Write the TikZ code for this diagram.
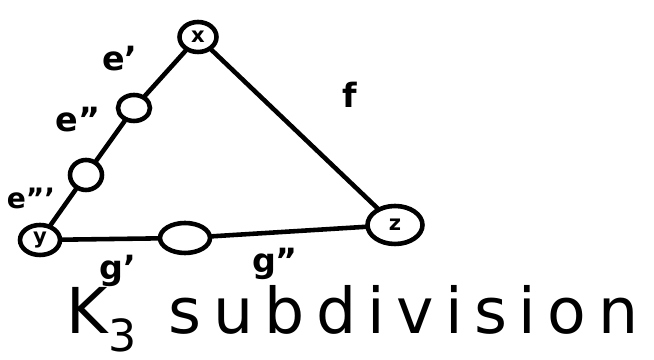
\documentclass[tikz,border=0pt]{standalone}
\usepackage{tikz}
\usepackage{fontspec}
\setsansfont{DejaVu Sans}
\usetikzlibrary{shapes.geometric, positioning}

\begin{document}
\begin{tikzpicture}[
        vert/.style={ellipse, draw=black, line width=2.6pt, inner sep=0pt, font=\sffamily\bfseries\large},
        edge_line/.style={draw=black, line width=2.6pt, line cap=round},
        lbl/.style={font=\sffamily\bfseries\fontsize{19}{22}\selectfont, inner sep=1pt}
    ]
    \useasboundingbox (0,0) rectangle (13.08,7.2);

    % Vertices
    \node[vert, minimum width=0.74cm, minimum height=0.6cm] (vx) at (3.96,6.46) {x};
    \node[vert, minimum width=0.64cm, minimum height=0.52cm] (ve1) at (2.68,5.04) {};
    \node[vert, minimum width=0.64cm, minimum height=0.6cm] (ve2) at (1.72,3.70) {};
    \node[vert, minimum width=0.8cm, minimum height=0.6cm] (vy) at (0.80,2.40) {y};
    \node[vert, minimum width=1.0cm, minimum height=0.6cm] (vg) at (3.70,2.44) {};
    \node[vert, minimum width=1.1cm, minimum height=0.76cm] (vz) at (7.90,2.70) {z};

    % Edge labels
    \node[lbl] (le1) at (2.40,6.02) {e'};
    \node[lbl] (le2) at (1.56,4.80) {e''};
    \node[lbl, font=\sffamily\bfseries\fontsize{16}{19}\selectfont] (le3) at (0.62,3.24) {e'''};
    \node[lbl] (lf) at (7.0,5.3) {f};
    \node[lbl] (lg1) at (2.36,1.78) {g'};
    \node[lbl] (lg2) at (5.5,1.92) {g''};

    % Title
    \node[font=\sffamily\fontsize{36}{42}\selectfont\addfontfeatures{LetterSpace=18}] (title) at (7.05,0.82) {K\textsubscript{3} subdivision};

    % Connections
    \draw[edge_line] (vx) -- (ve1);
    \draw[edge_line] (ve1) -- (ve2);
    \draw[edge_line] (ve2) -- (vy);
    \draw[edge_line] (vy) -- (vg);
    \draw[edge_line] (vg) -- (vz);
    \draw[edge_line] (vx) -- (vz);

\end{tikzpicture}
\end{document}
